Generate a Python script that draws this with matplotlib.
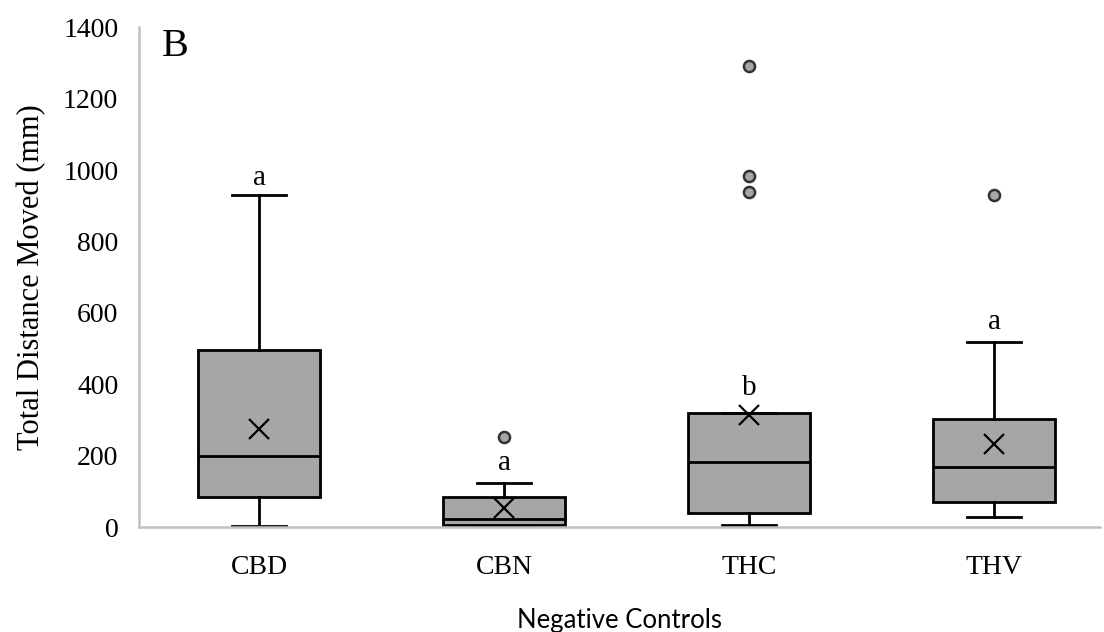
import matplotlib
import matplotlib.pyplot as plt

matplotlib.rcParams['font.family'] = ['Liberation Serif', 'DejaVu Serif']

# summary statistics (mm)
groups = ['CBD', 'CBN', 'THC', 'THV']
whislo = [3, 2, 5, 28]
q1 = [84, 5, 39, 70]
medians = [199, 22, 182, 168]
q3 = [496, 84, 319, 303]
whishi = [930, 123, 319, 518]
means = [274, 53, 314, 232]
outliers = [[], [252], [1291, 983, 938], [930]]
letters = ['a', 'a', 'b', 'a']
letter_y = [977, 179, 389, 574]

stats = []
for i, g in enumerate(groups):
    stats.append({
        'label': g, 'whislo': whislo[i], 'q1': q1[i], 'med': medians[i],
        'q3': q3[i], 'whishi': whishi[i], 'mean': means[i], 'fliers': outliers[i],
    })

fig = plt.figure(figsize=(11.04, 6.32), dpi=100)
ax = fig.add_axes([0.126, 0.166, 0.87, 0.791])

pos = [1, 2, 3, 4]
ax.bxp(stats, positions=pos, widths=0.5, patch_artist=True, showmeans=True,
       boxprops=dict(facecolor='#a6a6a6', edgecolor='black', linewidth=2),
       medianprops=dict(color='black', linewidth=2),
       whiskerprops=dict(color='black', linewidth=2),
       capprops=dict(color='black', linewidth=2),
       capwidths=0.22,
       meanprops=dict(marker='x', markeredgecolor='black', markersize=14,
                      markeredgewidth=1.6),
       flierprops=dict(marker='o', markerfacecolor='#a6a6a6',
                       markeredgecolor='#333333', markersize=8,
                       markeredgewidth=1.8))

for i in range(4):
    ax.text(pos[i], letter_y[i], letters[i], ha='center', va='center', fontsize=21)

ax.text(0.024, 0.962, 'B', transform=ax.transAxes, ha='left', va='center', fontsize=29)

ax.set_xlim(0.51, 4.43)
ax.set_ylim(0, 1400)
ax.set_yticks(range(0, 1401, 200))
ax.tick_params(axis='both', length=0, labelsize=20)
ax.tick_params(axis='x', pad=20)
ax.tick_params(axis='y', pad=15)
for s in ['top', 'right']:
    ax.spines[s].set_visible(False)
for s in ['left', 'bottom']:
    ax.spines[s].set_color('#c0c0c0')
    ax.spines[s].set_linewidth(1.8)

ax.set_ylabel('Total Distance Moved (mm)', fontsize=22, labelpad=12)
ax.set_xlabel('Negative Controls', fontsize=18.5, family=['Lato', 'DejaVu Sans'], labelpad=20)

plt.savefig('out.png')
